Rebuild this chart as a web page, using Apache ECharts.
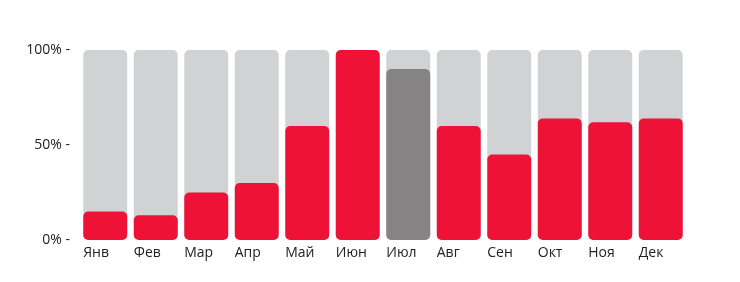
<!DOCTYPE html>
<html><head><meta charset="utf-8">
<script src="https://cdn.jsdelivr.net/npm/echarts@6/dist/echarts.min.js"></script>
<style>html,body{margin:0;padding:0;background:#fff}#c{width:740px;height:282px}</style>
</head><body><div id="c"></div>
<script>
const categories = ["Янв","Фев","Мар","Апр","Май","Июн","Июл","Авг","Сен","Окт","Ноя","Дек"];
const values = [15, 13, 25, 30, 60, 100, 90, 60, 45, 64, 62, 64];
const highlightIndex = 6;
const yTicks = [0, 50, 100];

const chart = echarts.init(document.getElementById('c'));
chart.setOption({
  animation: false,
  grid: { left: 80, right: 54, top: 50, bottom: 42 },
  xAxis: {
    type: 'category', data: categories,
    axisLine: { show: false }, axisTick: { show: false },
    axisLabel: { align: 'left', padding: [0,0,0,-22], margin: 6, fontSize: 14, color: '#222', fontFamily: 'Open Sans' }
  },
  yAxis: {
    type: 'value', min: 0, max: 100, interval: 50,
    splitLine: { show: false }, axisLine: { show: false }, axisTick: { show: false },
    axisLabel: { formatter: v => v + '% -', fontSize: 14, color: '#222', margin: 10, fontFamily: 'Open Sans', padding: [3,0,0,0] }
  },
  series: [{
    type: 'bar', barWidth: '87%',
    data: values.map((v, i) => ({ value: v, itemStyle: { color: i === highlightIndex ? '#858383' : '#ee1237' } })),
    showBackground: true,
    backgroundStyle: { color: '#d1d2d4', borderRadius: 5 },
    itemStyle: { borderRadius: 5 }
  }]
});
</script></body></html>
